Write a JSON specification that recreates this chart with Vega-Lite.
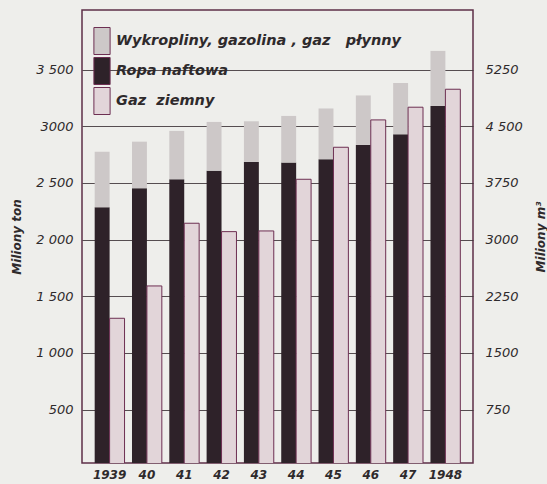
{
  "$schema": "https://vega.github.io/schema/vega-lite/v6.json",
  "width": 391,
  "height": 453,
  "autosize": "none",
  "padding": {"left": 82, "top": 10, "right": 74, "bottom": 21},
  "background": "#eeeeeb",
  "config": {
    "view": {"stroke": "#5e2f48", "strokeWidth": 1.5},
    "font": "DejaVu Sans",
    "axis": {"labelFont": "DejaVu Sans", "labelFontStyle": "italic", "labelColor": "#2e2a2c", "titleFont": "DejaVu Sans", "titleFontStyle": "italic", "titleFontWeight": "bold", "titleColor": "#2e2a2c"}
  },
  "data": {"values": [
    {"year": "1939", "group": "oil", "series": "Ropa naftowa", "value": 2285},
    {"year": "1939", "group": "oil", "series": "Wykropliny, gazolina , gaz\u00a0\u00a0\u00a0płynny", "value": 491},
    {"year": "1939", "group": "gas", "series": "Gaz\u00a0\u00a0ziemny", "value": 1958},
    {"year": "40", "group": "oil", "series": "Ropa naftowa", "value": 2453},
    {"year": "40", "group": "oil", "series": "Wykropliny, gazolina , gaz\u00a0\u00a0\u00a0płynny", "value": 411},
    {"year": "40", "group": "gas", "series": "Gaz\u00a0\u00a0ziemny", "value": 2386},
    {"year": "41", "group": "oil", "series": "Ropa naftowa", "value": 2532},
    {"year": "41", "group": "oil", "series": "Wykropliny, gazolina , gaz\u00a0\u00a0\u00a0płynny", "value": 427},
    {"year": "41", "group": "gas", "series": "Gaz\u00a0\u00a0ziemny", "value": 3216},
    {"year": "42", "group": "oil", "series": "Ropa naftowa", "value": 2608},
    {"year": "42", "group": "oil", "series": "Wykropliny, gazolina , gaz\u00a0\u00a0\u00a0płynny", "value": 430},
    {"year": "42", "group": "gas", "series": "Gaz\u00a0\u00a0ziemny", "value": 3105},
    {"year": "43", "group": "oil", "series": "Ropa naftowa", "value": 2685},
    {"year": "43", "group": "oil", "series": "Wykropliny, gazolina , gaz\u00a0\u00a0\u00a0płynny", "value": 359},
    {"year": "43", "group": "gas", "series": "Gaz\u00a0\u00a0ziemny", "value": 3114},
    {"year": "44", "group": "oil", "series": "Ropa naftowa", "value": 2679},
    {"year": "44", "group": "oil", "series": "Wykropliny, gazolina , gaz\u00a0\u00a0\u00a0płynny", "value": 412},
    {"year": "44", "group": "gas", "series": "Gaz\u00a0\u00a0ziemny", "value": 3798},
    {"year": "45", "group": "oil", "series": "Ropa naftowa", "value": 2709},
    {"year": "45", "group": "oil", "series": "Wykropliny, gazolina , gaz\u00a0\u00a0\u00a0płynny", "value": 448},
    {"year": "45", "group": "gas", "series": "Gaz\u00a0\u00a0ziemny", "value": 4222},
    {"year": "46", "group": "oil", "series": "Ropa naftowa", "value": 2835},
    {"year": "46", "group": "oil", "series": "Wykropliny, gazolina , gaz\u00a0\u00a0\u00a0płynny", "value": 437},
    {"year": "46", "group": "gas", "series": "Gaz\u00a0\u00a0ziemny", "value": 4584},
    {"year": "47", "group": "oil", "series": "Ropa naftowa", "value": 2929},
    {"year": "47", "group": "oil", "series": "Wykropliny, gazolina , gaz\u00a0\u00a0\u00a0płynny", "value": 453},
    {"year": "47", "group": "gas", "series": "Gaz\u00a0\u00a0ziemny", "value": 4752},
    {"year": "1948", "group": "oil", "series": "Ropa naftowa", "value": 3179},
    {"year": "1948", "group": "oil", "series": "Wykropliny, gazolina , gaz\u00a0\u00a0\u00a0płynny", "value": 486},
    {"year": "1948", "group": "gas", "series": "Gaz\u00a0\u00a0ziemny", "value": 4990}
  ]},
  "layer": [
    {
      "transform": [
        {"filter": "datum.group == 'oil'"},
        {"calculate": "datum.series == 'Ropa naftowa' ? 0 : 1", "as": "ord"}
      ],
      "mark": {"type": "bar", "clip": true},
      "encoding": {
        "x": {"field": "year", "type": "nominal", "sort": null,
              "scale": {"paddingInner": 0.2, "paddingOuter": 0.34},
              "axis": {"title": null, "labelAngle": 0, "ticks": false, "domain": false, "labelPadding": 6, "labelFontSize": 12, "labelFontWeight": "bold"}},
        "xOffset": {"field": "group", "type": "nominal", "scale": {"domain": ["oil", "gas"], "paddingInner": 0}},
        "y": {"field": "value", "type": "quantitative", "stack": "zero",
              "scale": {"domain": [28, 4026], "nice": false, "zero": false},
              "axis": {"orient": "left", "values": [500, 1000, 1500, 2000, 2500, 3000, 3500],
                       "labelExpr": "datum.value == 3000 || datum.value == 500 ? format(datum.value, 'd') : replace(format(datum.value, ','), ',', ' ')",
                       "title": "Miliony ton", "titlePadding": 12, "titleFontSize": 12,
                       "labelFontSize": 13, "labelPadding": 9, "ticks": false,
                       "domain": false, "grid": true, "gridColor": "#3a3035", "gridOpacity": 0.85}},
        "color": {"field": "series", "type": "nominal",
                  "scale": {"domain": ["Wykropliny, gazolina , gaz\u00a0\u00a0\u00a0płynny", "Ropa naftowa", "Gaz\u00a0\u00a0ziemny"],
                            "range": ["#cdc8c8", "#2e2229", "#e2d5d9"]},
                  "legend": {"orient": "none", "legendX": 6, "legendY": 17, "title": null,
                             "symbolType": "M-0.6,-1H0.6V1H-0.6Z", "symbolSize": 729,
                             "symbolStrokeColor": "#3a3035", "symbolStrokeWidth": 1,
                             "labelFontSize": 14.5, "labelFontStyle": "italic", "labelFontWeight": "bold",
                             "labelColor": "#2e2a2c", "labelLimit": 400, "labelOffset": 0, "rowPadding": -2.5}},
        "order": {"field": "ord"}
      }
    },
    {
      "transform": [{"filter": "datum.group == 'gas'"}],
      "mark": {"type": "bar", "clip": true, "stroke": "#6d2f52", "strokeWidth": 1},
      "encoding": {
        "x": {"field": "year", "type": "nominal", "sort": null},
        "xOffset": {"field": "group", "type": "nominal", "scale": {"domain": ["oil", "gas"], "paddingInner": 0}},
        "y": {"field": "value", "type": "quantitative",
              "scale": {"domain": [42, 6039], "nice": false, "zero": false},
              "axis": {"orient": "right", "values": [750, 1500, 2250, 3000, 3750, 4500, 5250],
                       "labelExpr": "datum.value == 4500 ? '4 500' : format(datum.value, 'd')",
                       "title": "Miliony m³", "titleAngle": 270, "titlePadding": 25, "titleFontSize": 12,
                       "labelFontSize": 13, "labelPadding": 12, "ticks": false,
                       "domain": false, "grid": false}},
        "color": {"field": "series", "type": "nominal"}
      }
    }
  ],
  "resolve": {"scale": {"y": "independent"}}
}
